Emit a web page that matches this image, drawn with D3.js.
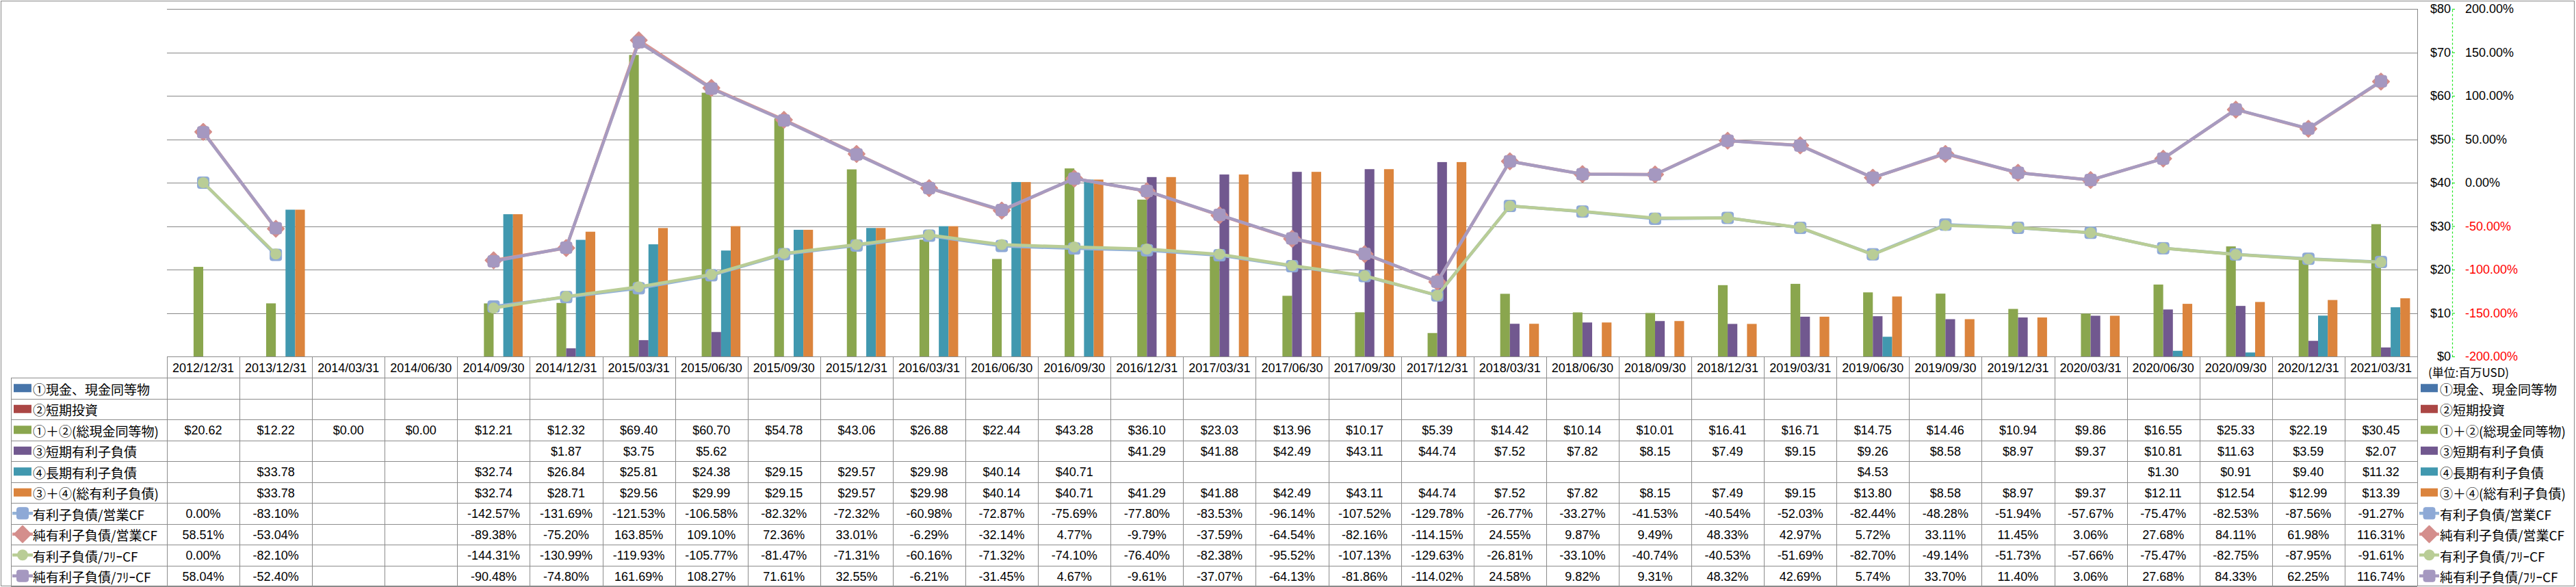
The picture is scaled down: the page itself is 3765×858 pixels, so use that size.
<!DOCTYPE html>
<html>
<head>
<meta charset="utf-8">
<script src="https://cdn.jsdelivr.net/npm/d3@7"></script>
<style>
  html, body { margin: 0; padding: 0; background: #fff; }
  svg { display: block; }
</style>
</head>
<body>
<svg id="chart" width="3765" height="858"></svg>
<script>
// ---------------- DATA ----------------
const categories = [
  "2012/12/31","2013/12/31","2014/03/31","2014/06/30","2014/09/30","2014/12/31",
  "2015/03/31","2015/06/30","2015/09/30","2015/12/31","2016/03/31","2016/06/30",
  "2016/09/30","2016/12/31","2017/03/31","2017/06/30","2017/09/30","2017/12/31",
  "2018/03/31","2018/06/30","2018/09/30","2018/12/31","2019/03/31","2019/06/30",
  "2019/09/30","2019/12/31","2020/03/31","2020/06/30","2020/09/30","2020/12/31","2021/03/31"
];

const cashEquivalents = [null,null,null,null,null,null,null,null,null,null,null,null,null,null,null,null,
  null,null,null,null,null,null,null,null,null,null,null,null,null,null,null];
const shortInvestments = [null,null,null,null,null,null,null,null,null,null,null,null,null,null,null,null,
  null,null,null,null,null,null,null,null,null,null,null,null,null,null,null];
const totalCash = [20.62,12.22,0.00,0.00,12.21,12.32,69.40,60.70,54.78,43.06,26.88,22.44,43.28,36.10,23.03,
  13.96,10.17,5.39,14.42,10.14,10.01,16.41,16.71,14.75,14.46,10.94,9.86,16.55,25.33,22.19,30.45];
const shortDebt = [null,null,null,null,null,1.87,3.75,5.62,null,null,null,null,null,41.29,41.88,
  42.49,43.11,44.74,7.52,7.82,8.15,7.49,9.15,9.26,8.58,8.97,9.37,10.81,11.63,3.59,2.07];
const longDebt = [null,33.78,null,null,32.74,26.84,25.81,24.38,29.15,29.57,29.98,40.14,40.71,null,null,
  null,null,null,null,null,null,null,null,4.53,null,null,null,1.30,0.91,9.40,11.32];
const totalDebt = [null,33.78,null,null,32.74,28.71,29.56,29.99,29.15,29.57,29.98,40.14,40.71,41.29,41.88,
  42.49,43.11,44.74,7.52,7.82,8.15,7.49,9.15,13.80,8.58,8.97,9.37,12.11,12.54,12.99,13.39];

const debtToOpCF = [0.00,-83.10,null,null,-142.57,-131.69,-121.53,-106.58,-82.32,-72.32,-60.98,-72.87,-75.69,
  -77.80,-83.53,-96.14,-107.52,-129.78,-26.77,-33.27,-41.53,-40.54,-52.03,-82.44,-48.28,-51.94,-57.67,
  -75.47,-82.53,-87.56,-91.27];
const netDebtToOpCF = [58.51,-53.04,null,null,-89.38,-75.20,163.85,109.10,72.36,33.01,-6.29,-32.14,4.77,
  -9.79,-37.59,-64.54,-82.16,-114.15,24.55,9.87,9.49,48.33,42.97,5.72,33.11,11.45,3.06,27.68,84.11,61.98,116.31];
const debtToFreeCF = [0.00,-82.10,null,null,-144.31,-130.99,-119.93,-105.77,-81.47,-71.31,-60.16,-71.32,-74.10,
  -76.40,-82.38,-95.52,-107.13,-129.63,-26.81,-33.10,-40.74,-40.53,-51.69,-82.70,-49.14,-51.73,-57.66,
  -75.47,-82.75,-87.95,-91.61];
const netDebtToFreeCF = [58.04,-52.40,null,null,-90.48,-74.80,161.69,108.27,71.61,32.55,-6.21,-31.45,4.67,
  -9.61,-37.07,-64.13,-81.86,-114.02,24.58,9.82,9.31,48.32,42.69,5.74,33.70,11.40,3.06,27.68,84.33,62.25,116.74];

const barSeriesNames = ["①現金、現金同等物","②短期投資","①＋②(総現金同等物)","③短期有利子負債","④長期有利子負債","③＋④(総有利子負債)"];
const lineSeriesNames = ["有利子負債/営業CF","純有利子負債/営業CF","有利子負債/ﾌﾘｰCF","純有利子負債/ﾌﾘｰCF"];
const yTicks = [0,10,20,30,40,50,60,70,80];
const y2Ticks = [-200,-150,-100,-50,0,50,100,150,200];
const unitLabel = "(単位:百万USD)";

// ---------------- STYLE / LAYOUT ----------------
const barColors = ["#4775AA","#AB4644","#8AA64E","#71588F","#4198AF","#DB843D"];
const lineColors = ["#95B3D7","#D99694","#B9CD96","#A79BC0"];
const markerColors = ["#8EA9D6","#D48E8C","#B9CD96","#A598C0"];
const markerTypes = ["square","diamond","circle","square"];

const W = 3765, H = 858;
const plotLeft = 244, plotRight = 3533, plotTop = 13, plotBottom = 521;
const headerH = 31, rowH = 30.5, legendLeft = 16;
const gridColor = "#878787", tableColor = "#8c8c8c";
const latin = "'Liberation Sans', Arial, sans-serif";
const cjk = "'Noto Sans CJK JP', 'Noto Sans CJK SC', sans-serif";

const svg = d3.select("#chart");

const barSeries = [cashEquivalents, shortInvestments, totalCash, shortDebt, longDebt, totalDebt];
const lineSeries = [debtToOpCF, netDebtToOpCF, debtToFreeCF, netDebtToFreeCF];

const x = d3.scaleBand().domain(categories).range([plotLeft, plotRight]).paddingInner(0).paddingOuter(0);
const bw = x.bandwidth();
const xs = d3.scaleBand().domain(d3.range(barSeries.length)).range([bw * 0.1, bw * 0.9]).padding(0);
const y = d3.scaleLinear().domain([0, 80]).range([plotBottom, plotTop]);
const y2 = d3.scaleLinear().domain([-200, 200]).range([plotBottom, plotTop]);
const cx = c => x(c) + bw / 2;

// outer border
svg.append("rect").attr("x", 1.5).attr("y", 1.5).attr("width", W - 4).attr("height", H - 3)
  .attr("fill", "none").attr("stroke", gridColor).attr("stroke-width", 1);

// gridlines
svg.append("g").selectAll("line").data(yTicks.filter(t => t > 0)).join("line")
  .attr("x1", plotLeft).attr("x2", plotRight)
  .attr("y1", d => Math.round(y(d)) + 0.5).attr("y2", d => Math.round(y(d)) + 0.5)
  .attr("stroke", gridColor).attr("stroke-width", 1);

// plot right border
svg.append("line").attr("x1", plotRight + 0.5).attr("x2", plotRight + 0.5)
  .attr("y1", y(80)).attr("y2", plotBottom).attr("stroke", gridColor);

// bars
const barG = svg.append("g");
barSeries.forEach((vals, si) => {
  barG.append("g").attr("fill", barColors[si]).selectAll("rect")
    .data(categories.map((c, i) => ({ c, v: vals[i] })).filter(d => d.v != null && d.v > 0))
    .join("rect")
    .attr("x", d => x(d.c) + xs(si))
    .attr("width", xs.bandwidth())
    .attr("y", d => y(d.v))
    .attr("height", d => plotBottom - y(d.v));
});

// markers
function drawMarker(g, type, px, py, color) {
  if (type === "square") {
    g.append("rect").attr("x", px - 8.5).attr("y", py - 8.5).attr("width", 17).attr("height", 17)
      .attr("rx", 3).attr("fill", color).attr("stroke", color).attr("stroke-width", 1);
  } else if (type === "diamond") {
    const r = 12;
    g.append("path").attr("d", `M${px},${py - r}L${px + r},${py}L${px},${py + r}L${px - r},${py}Z`)
      .attr("fill", color).attr("stroke", color).attr("stroke-linejoin", "round").attr("stroke-width", 2);
  } else {
    g.append("circle").attr("cx", px).attr("cy", py).attr("r", 8).attr("fill", color);
  }
}

// lines
const lineGen = d3.line().defined(d => d.v != null).x(d => cx(d.c)).y(d => y2(d.v));
lineSeries.forEach((vals, si) => {
  const data = categories.map((c, i) => ({ c, v: vals[i] }));
  const g = svg.append("g");
  g.append("path").datum(data).attr("d", lineGen).attr("fill", "none")
    .attr("stroke", lineColors[si]).attr("stroke-width", 4.5)
    .attr("stroke-linejoin", "round").attr("stroke-linecap", "round");
  data.filter(d => d.v != null).forEach(d => drawMarker(g, markerTypes[si], cx(d.c), y2(d.v), markerColors[si]));
});

// number formats with ASCII hyphen-minus
const fmtMoney = v => "$" + v.toFixed(2);
const fmtPct = v => v.toFixed(2) + "%";

// primary axis ($) on the right
const axisX = 3584;
const ax1 = svg.append("g").attr("transform", `translate(${axisX},0)`)
  .call(d3.axisLeft(y).tickValues(yTicks).tickFormat(d => "$" + d).tickSizeInner(-4).tickSizeOuter(0).tickPadding(2));
ax1.select(".domain").attr("stroke", "#1ee61e").attr("stroke-dasharray", "3,3").attr("stroke-width", 1.2);
ax1.selectAll(".tick line").attr("stroke", "#1ee61e").attr("stroke-width", 1.2);
ax1.selectAll(".tick text").attr("font-family", latin).attr("font-size", 18).attr("fill", "#000");

// secondary axis (%)
const ax2 = svg.append("g").attr("transform", `translate(${axisX},0)`)
  .call(d3.axisRight(y2).tickValues(y2Ticks).tickFormat(fmtPct).tickSize(0).tickPadding(19));
ax2.select(".domain").remove();
ax2.selectAll(".tick text").attr("font-family", latin).attr("font-size", 18)
  .attr("fill", d => d < 0 ? "#FF0000" : "#000");

// ---------------- DATA TABLE ----------------
const tableTop = plotBottom;
const rowsTop = tableTop + headerH;
const nRows = barSeries.length + lineSeries.length;
const tableBottom = rowsTop + nRows * rowH;
const tg = svg.append("g");
const hl = (x1, x2, yy) => tg.append("line").attr("x1", x1).attr("x2", x2)
  .attr("y1", Math.round(yy) + 0.5).attr("y2", Math.round(yy) + 0.5).attr("stroke", tableColor);
const vl = (xx, y1, y2v) => tg.append("line").attr("x1", Math.round(xx) + 0.5).attr("x2", Math.round(xx) + 0.5)
  .attr("y1", y1).attr("y2", y2v).attr("stroke", tableColor);

hl(plotLeft, plotRight, tableTop);
for (let r = 0; r <= nRows; r++) hl(legendLeft, plotRight, rowsTop + r * rowH);
vl(legendLeft, rowsTop, tableBottom);
categories.forEach(c => vl(x(c), tableTop, tableBottom));
vl(plotRight, tableTop, tableBottom);

// header labels
tg.selectAll("text.hdr").data(categories).join("text").attr("class", "hdr")
  .attr("x", d => cx(d)).attr("y", tableTop + headerH / 2 + 1)
  .attr("text-anchor", "middle").attr("dominant-baseline", "central")
  .attr("font-family", latin).attr("font-size", 18).text(d => d);

// cell values
const allRows = barSeries.map(s => ({ vals: s, fmt: fmtMoney })).concat(lineSeries.map(s => ({ vals: s, fmt: fmtPct })));
allRows.forEach((row, r) => {
  const ym = rowsTop + r * rowH + rowH / 2 + 1;
  tg.append("g").selectAll("text")
    .data(categories.map((c, i) => ({ c, v: row.vals[i] })).filter(d => d.v != null))
    .join("text")
    .attr("x", d => cx(d.c)).attr("y", ym)
    .attr("text-anchor", "middle").attr("dominant-baseline", "central")
    .attr("font-family", latin).attr("font-size", 18).text(d => row.fmt(d.v));
});

// legend keys (table left & right legend)
function legendKey(g, r, x0, x1) {
  const ym = rowsTop + r * rowH + rowH / 2;
  if (r < barSeries.length) {
    g.append("rect").attr("x", x0).attr("y", ym - 6).attr("width", x1 - x0).attr("height", 12)
      .attr("fill", barColors[r]);
  } else {
    const li = r - barSeries.length;
    g.append("line").attr("x1", x0 - 2).attr("x2", x1 + 2).attr("y1", ym).attr("y2", ym)
      .attr("stroke", lineColors[li]).attr("stroke-width", 4.5);
    drawMarker(g, markerTypes[li], (x0 + x1) / 2, ym, markerColors[li]);
  }
}
const allNames = barSeriesNames.concat(lineSeriesNames);
const lg = svg.append("g");
allNames.forEach((name, r) => {
  const ym = rowsTop + r * rowH + rowH / 2 + 1;
  legendKey(lg, r, 20, 46);
  lg.append("text").attr("x", 48).attr("y", ym).attr("dominant-baseline", "central")
    .attr("font-family", cjk).attr("font-size", 19).text(name);
  legendKey(lg, r, 3538, 3563);
  lg.append("text").attr("x", 3566).attr("y", ym).attr("dominant-baseline", "central")
    .attr("font-family", cjk).attr("font-size", 19).text(name);
});

// unit label
svg.append("text").attr("x", 3549).attr("y", 543).attr("dominant-baseline", "central")
  .attr("font-family", cjk).attr("font-size", 17).text(unitLabel);
</script>
</body>
</html>
